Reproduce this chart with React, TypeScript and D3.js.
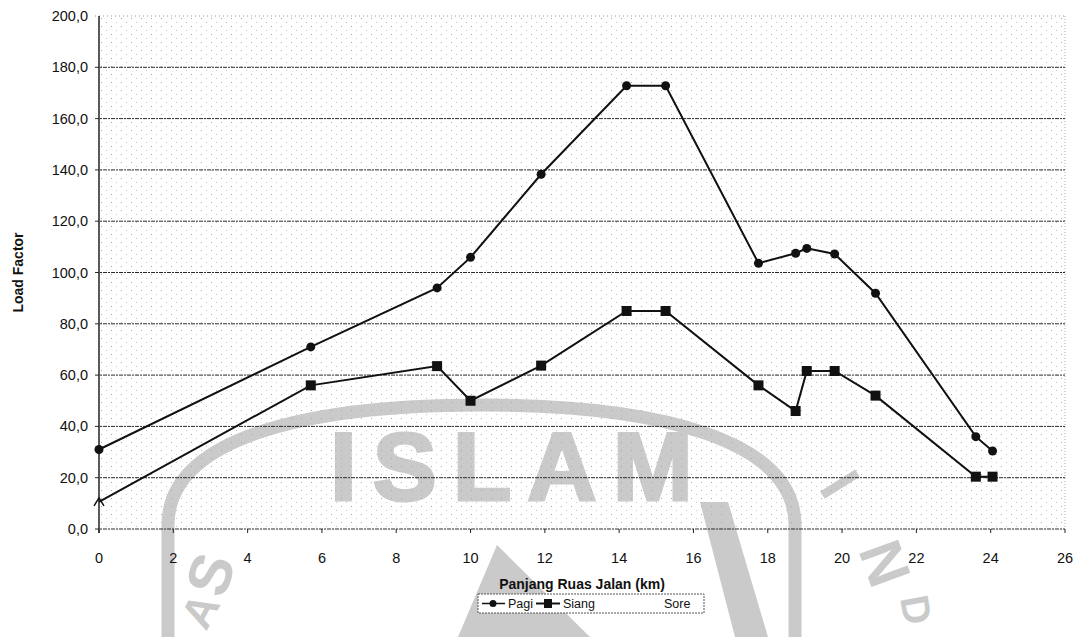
import React from 'react';
import * as d3 from 'd3';

// data
const jarakKm = [0, 5.7, 9.1, 10.0, 11.9, 14.2, 15.25, 17.75, 18.75, 19.05, 19.8, 20.9, 23.6, 24.05];
const pagi = [31, 71, 94, 105.9, 138.3, 172.8, 172.8, 103.6, 107.5, 109.4, 107.2, 91.9, 36.0, 30.4];
const siang = [10.6, 56, 63.5, 50, 63.7, 85, 85, 56, 46, 61.6, 61.6, 52, 20.4, 20.4];
const xTicks = d3.range(0, 27, 2);
const yTicks = d3.range(0, 201, 20);
const legendLabels = ['Pagi', 'Siang', 'Sore'];

const W = 1082;
const H = 637;
const margin = { top: 16, right: 17, bottom: 108, left: 99 };

const App = () => {
  const x = d3.scaleLinear().domain([0, 26]).range([margin.left, W - margin.right]);
  const y = d3.scaleLinear().domain([0, 200]).range([H - margin.bottom, margin.top]);
  const fmt = (v: number) => v.toFixed(1).replace('.', ',');

  const line = d3.line<number>()
    .x((_, i) => x(jarakKm[i]))
    .y(d => y(d));

  const pagiPts = pagi.map((v, i) => [x(jarakKm[i]), y(v)]);
  const siangPts = siang.map((v, i) => [x(jarakKm[i]), y(v)]);
  const wm = '#cacaca';
  const font = 'Arial, "Liberation Sans", sans-serif';

  return (
    <svg width={W} height={H} style={{ position: 'absolute', left: 0, top: 0, background: '#fff' }} fontFamily={font}>
      <defs>
        <pattern id="dots" width="10" height="8" patternUnits="userSpaceOnUse">
          <rect x="1" y="2" width="1" height="1" fill="#a8a8a8" />
          <rect x="6" y="6" width="1" height="1" fill="#c8c8c8" />
        </pattern>
      </defs>

      {/* watermark */}
      <g fill={wm} stroke="none">
        <path d="M168,637 L168,525 C168,440 300,405 482,405 C660,405 795,440 795,525 L795,637"
          fill="none" stroke={wm} strokeWidth={13} />
        <text x={330} y={500} fontSize={96} fontWeight="bold" letterSpacing={16} stroke={wm} strokeWidth={3}>ISLAM</text>
        <text transform="translate(224,600) rotate(-72)" fontSize={60} fontWeight="bold">S</text>
        <text transform="translate(206,632) rotate(-62)" fontSize={44} fontWeight="bold">A</text>
        <text transform="translate(818,488) rotate(58)" fontSize={60} fontWeight="bold">I</text>
        <text transform="translate(858,550) rotate(70)" fontSize={60} fontWeight="bold">N</text>
        <text transform="translate(900,598) rotate(80)" fontSize={40} fontWeight="bold">D</text>
        <polygon points="458,637 497,545 590,637" />
        <polygon points="700,502 728,502 768,637 735,637" />
      </g>

      {/* plot texture */}
      <rect x={margin.left} y={margin.top} width={x(26) - x(0)} height={y(0) - y(200)} fill="url(#dots)" />
      <line x1={x(26)} x2={x(26)} y1={y(200)} y2={y(0)} stroke="#aaa" strokeDasharray="1 2" />

      {/* gridlines */}
      {yTicks.map(t => (
        <line key={t} x1={x(0) - 4} x2={x(26)} y1={y(t)} y2={y(t)}
          stroke={t === 200 ? '#999' : '#2a2a2a'} strokeWidth={1}
          strokeDasharray={t === 200 ? '1 3' : '4 1 2 1'} />
      ))}
      <line x1={x(0)} x2={x(0)} y1={y(200)} y2={y(0) + 4} stroke="#222" strokeWidth={1.5} />
      {xTicks.map(t => (
        <line key={t} x1={x(t)} x2={x(t)} y1={y(0)} y2={y(0) + 4} stroke="#222" />
      ))}

      {/* tick labels */}
      {yTicks.map(t => (
        <text key={t} x={88} y={y(t) + 5} textAnchor="end" fontSize={14.5} fill="#111">{fmt(t)}</text>
      ))}
      {xTicks.map(t => (
        <text key={t} x={x(t)} y={563} textAnchor="middle" fontSize={14.5} fill="#111">{t}</text>
      ))}

      {/* axis titles */}
      <text transform={`translate(23,${(y(0) + y(200)) / 2}) rotate(-90)`} textAnchor="middle"
        fontSize={14} fontWeight="bold" fill="#111">Load Factor</text>
      <text x={582} y={589} textAnchor="middle" fontSize={14} fontWeight="bold" fill="#111">Panjang Ruas Jalan (km)</text>

      {/* series */}
      <path d={line(pagi) || ''} fill="none" stroke="#111" strokeWidth={2} />
      <path d={line(siang) || ''} fill="none" stroke="#111" strokeWidth={2} />
      {pagiPts.map(([px, py], i) => (
        <circle key={i} cx={px} cy={py} r={4.5} fill="#111" />
      ))}
      {siangPts.map(([px, py], i) => i === 0 ? (
        <path key={i} d={`M${px - 5},${py + 4} L${px},${py - 4} L${px + 5},${py + 4}`} fill="none" stroke="#111" strokeWidth={1.5} />
      ) : (
        <rect key={i} x={px - 5} y={py - 5} width={10} height={10} fill="#111" />
      ))}

      {/* legend */}
      <g>
        <rect x={478} y={594} width={226} height={19} fill="#fff" stroke="#555" strokeDasharray="2 1" />
        <line x1={482} x2={505} y1={603.5} y2={603.5} stroke="#111" strokeWidth={1.5} />
        <circle cx={493} cy={603.5} r={3.5} fill="#111" />
        <text x={508} y={608} fontSize={12.5} fill="#111">{legendLabels[0]}</text>
        <line x1={536} x2={560} y1={603.5} y2={603.5} stroke="#111" strokeWidth={2} />
        <rect x={544} y={599} width={8} height={9} fill="#111" />
        <text x={563} y={608} fontSize={12.5} fill="#111">{legendLabels[1]}</text>
        <text x={664} y={608} fontSize={12.5} fill="#111">{legendLabels[2]}</text>
      </g>
    </svg>
  );
};

export default App;
